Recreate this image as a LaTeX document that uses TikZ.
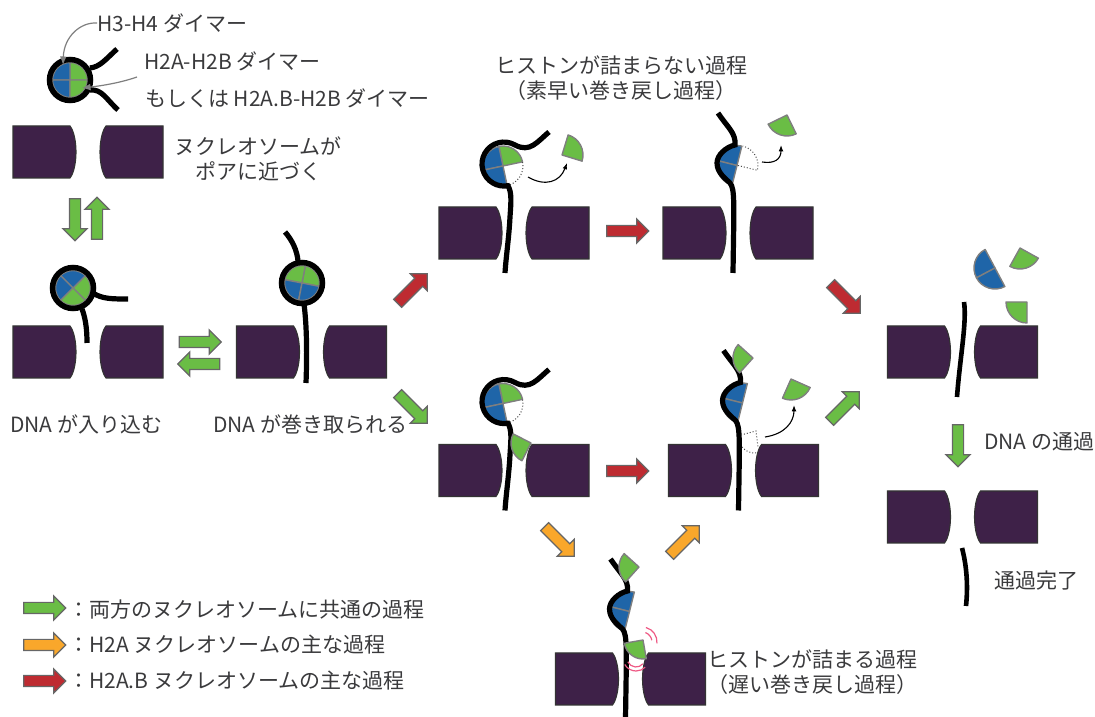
\documentclass[tikz,border=0pt]{standalone}
\usepackage{fontspec}
\setmainfont{Noto Sans CJK JP}
\usepackage{xcolor}
\usetikzlibrary{arrows.meta,shapes.arrows}
\definecolor{PoreInk}{HTML}{3E2148}
\definecolor{HistGreen}{HTML}{6ABD45}
\definecolor{HistBlue}{HTML}{1F65A8}
\definecolor{HistEdge}{HTML}{7F7F7F}
\definecolor{FlowRed}{HTML}{BE2B31}
\definecolor{FlowOrange}{HTML}{F9A72B}
\definecolor{TextInk}{HTML}{3A3A3C}
\definecolor{ClashPink}{HTML}{EE5A85}

% one histone quarter: [radius]{centre}{start angle}{colour}
\newcommand{\hquart}[4][20]{%
  \draw[line width=1.4pt, draw=HistEdge, line join=round, fill=#4]
    (#2) -- ++(#3:#1) arc[start angle=#3, delta angle=90, radius=#1] -- cycle;}

\tikzset{
  pore/.pic={
    \draw[fill=PoreInk, draw=black!80, line width=1.1pt]
      (-75,26) -- (-18,26) .. controls (-14,21) and (-12,10) .. (-12,0)
      .. controls (-12,-10) and (-14,-21) .. (-18,-26) -- (-75,-26) -- cycle;
    \draw[fill=PoreInk, draw=black!80, line width=1.1pt]
      (75,26) -- (18,26) .. controls (14,21) and (12,10) .. (12,0)
      .. controls (12,-10) and (14,-21) .. (18,-26) -- (75,-26) -- cycle;
  },
  % three quarters left on the coiled strand
  coiled/.pic={
    \hquart{-11,67}{12}{HistGreen}
    \hquart{-11,67}{102}{HistBlue}
    \hquart{-11,67}{192}{HistBlue}
    \draw[ghost] (-11,67) ++(282:20) arc[start angle=282, delta angle=90, radius=20];
    \draw[dna] (35,101) .. controls (23,91) and (16,80) .. (1,88)
      arc[start angle=60, end angle=280, radius=22]
      .. controls (-2,41) and (-3,31) .. (-4,16)
      .. controls (-5,-4) and (-8,-24) .. (-9,-40);
  },
  % two quarters left, flat side to the right
  halfcore/.pic={
    \hquart{-1,67.5}{76}{HistBlue}
    \hquart{-1,67.5}{166}{HistBlue}
    \draw[dna] (-20,120) .. controls (-10,105) and (-2,100) .. (-3,88)
      .. controls (-12,86) and (-21,78) .. (-21,70)
      .. controls (-21,60) and (-12,54) .. (-8,50)
      .. controls (-3,44) and (-4,30) .. (-5,-40);
  },
  dna/.style={line width=5.2pt, draw=black},
  ring/.style={line width=5.5pt, draw=black},
  jptext/.style={font=\fontsize{21}{25.5}\selectfont, text=TextInk, inner sep=0pt},
  flow/.style={single arrow, inner xsep=0pt, inner ysep=5pt, minimum height=42pt,
               single arrow head extend=6.5pt, draw=black!60, line width=1.2pt},
  flowg/.style={flow, fill=HistGreen},
  flowr/.style={flow, fill=FlowRed},
  flowo/.style={flow, fill=FlowOrange},
  pointer/.style={draw=HistEdge, line width=1.2pt, -{Latex[length=3mm, width=2.4mm]}},
  swing/.style={draw=black, line width=1.1pt, -{Latex[length=2.2mm]}},
  ghost/.style={dotted, line width=1pt, draw=black!70},
  clash/.style={draw=ClashPink, line width=1.2pt}
}

\begin{document}
\begin{tikzpicture}[x=1pt, y=1pt]
\useasboundingbox (0,0) rectangle (1095,717);

% pores
\pic at (88,565) {pore};
\pic at (88,365) {pore};
\pic at (311.5,365) {pore};
\pic at (514,484) {pore};
\pic at (738,484) {pore};
\pic at (514,246.5) {pore};
\pic at (743.5,246.5) {pore};
\pic at (630.5,38) {pore};
\pic at (962.5,365) {pore};
\pic at (962.5,200) {pore};

% free nucleosome above the first pore
\hquart[17.5]{70,637}{0}{HistGreen}
\hquart[17.5]{70,637}{90}{HistBlue}
\hquart[17.5]{70,637}{180}{HistBlue}
\hquart[17.5]{70,637}{270}{HistGreen}
\draw[ring] (70,637) circle (20.5);
\draw[dna] (90,649) .. controls (100,650) and (106,658) .. (117,668);
\draw[dna] (90,627) .. controls (102,628) and (106,618) .. (118,607);

% DNA entering the pore
\hquart[17.5]{73,429}{-45}{HistGreen}
\hquart[17.5]{73,429}{45}{HistBlue}
\hquart[17.5]{73,429}{135}{HistBlue}
\hquart[17.5]{73,429}{225}{HistGreen}
\draw[ring] (73,429) circle (20.5);
\draw[dna] (93,424) .. controls (102,418) and (112,418) .. (128,418);
\draw[dna] (82,408) .. controls (85,400) and (87,390) .. (87,374);

% DNA taken up
\hquart[17.5]{302,434}{-11}{HistGreen}
\hquart[17.5]{302,434}{79}{HistGreen}
\hquart[17.5]{302,434}{169}{HistBlue}
\hquart[17.5]{302,434}{259}{HistBlue}
\draw[ring] (302,434) circle (20.5);
\draw[dna] (285,485) .. controls (292,477) and (297,467) .. (298,456);
\draw[dna] (304,413) .. controls (307,390) and (307,360) .. (306,334);

% upper route
\pic at (514,484) {coiled};
\hquart[21]{562,562}{-17}{HistGreen}
\draw[swing] (528,540) .. controls (545,530) and (560,535) .. (567,554);

\pic at (738,484) {halfcore};
\draw[ghost] (738,551.5) -- ++(-14:20) arc[start angle=-14, delta angle=90, radius=20];
\hquart[21]{787,602}{206}{HistGreen}
\draw[swing] (762,555) .. controls (775,553) and (781,558) .. (781,572);

% lower route
\pic at (514,246.5) {coiled};
\hquart{531,274}{153}{HistGreen}

\pic at (743.5,246.5) {halfcore};
\hquart{753,359}{138}{HistGreen}
\hquart[21]{791,338}{246}{HistGreen}
\draw[ghost] (741,282) -- (756,286) -- (758,270);
\draw[ghost] (742,270) .. controls (746,265) and (751,264) .. (756,264);
\draw[swing] (765,280) .. controls (785,283) and (794,295) .. (794,312);

% stuck histone at the pore
\pic at (630.5,38) {halfcore};
\hquart{639,150}{138}{HistGreen}
\hquart[19]{643,77}{190}{HistGreen}
\draw[clash] (642,75) ++(10:10) arc[start angle=10, end angle=70, radius=10];
\draw[clash] (642,75) ++(-5:15) arc[start angle=-5, end angle=75, radius=15];
\draw[clash] (636,59) ++(205:9) arc[start angle=205, end angle=320, radius=9];
\draw[clash] (636,59) ++(210:13) arc[start angle=210, end angle=315, radius=13];

% after passing through
\hquart[21]{995,449}{118}{HistBlue}
\hquart[21]{995,449}{208}{HistBlue}
\hquart[21]{1020,469}{241}{HistGreen}
\hquart[21]{1027,415}{180}{HistGreen}
\draw[dna, line width=4.6pt] (964,415) .. controls (967,395) and (960,360) .. (957,320);
\draw[dna, line width=4.6pt] (962,169) .. controls (967,150) and (968,130) .. (966,111);

% block arrows
\node[flowg, rotate=-90] (gdown) at (75,500) {};
\node[flowg, rotate=90] (gup) at (97,496) {};
\node[flowg] (gright) at (197.5,375) {};
\node[flowg, rotate=180] (gleft) at (201.5,353) {};
\node[flowr, rotate=45] (rup) at (410.5,426.5) {};
\node[flowg, rotate=-45] (gfall) at (410.5,310.5) {};
\node[flowr] (rtop) at (625,486) {};
\node[flowr] (rlow) at (625,246) {};
\node[flowr, rotate=-45] (rout) at (843.5,420.5) {};
\node[flowg, rotate=45] (gout) at (842.5,308.5) {};
\node[flowg, rotate=-90] (gpass) at (958,274) {};
\node[flowo, rotate=-45] (odown) at (557.5,177.5) {};
\node[flowo, rotate=45] (oup) at (682.5,174.5) {};

% legend
\node[flowg] (keyg) at (42,109) {};
\node[flowo] (keyo) at (42,72) {};
\node[flowr] (keyr) at (42,36) {};
\node[jptext, anchor=west] (keygt) at (68,107) {：両方のヌクレオソームに共通の過程};
\node[jptext, anchor=west] (keyot) at (68,72) {：H2A ヌクレオソームの主な過程};
\node[jptext, anchor=west] (keyrt) at (68,36) {：H2A.B ヌクレオソームの主な過程};

% labels
\node[jptext, anchor=west] (h3h4) at (97,694) {H3-H4 ダイマー};
\node[jptext, anchor=west] (h2a) at (144,656) {H2A-H2B ダイマー};
\node[jptext, anchor=west] (h2ab) at (145,619) {もしくは H2A.B-H2B ダイマー};
\node[jptext, align=center] (near) at (258,558) {ヌクレオソームが\\ポアに近づく};
\node[jptext, align=center] (fast) at (621,639) {ヒストンが詰まらない過程\\（素早い巻き戻し過程）};
\node[jptext, anchor=west] (enter) at (10,293) {DNA が入り込む};
\node[jptext, anchor=west] (wind) at (213,293) {DNA が巻き取られる};
\node[jptext, anchor=west] (pass) at (984,275) {DNA の通過};
\node[jptext, anchor=west] (done) at (994,136) {通過完了};
\node[jptext, align=center] (slow) at (812,45) {ヒストンが詰まる過程\\（遅い巻き戻し過程）};

% pointers from the dimer labels
\coordinate (h3h4tip) at (63,652);
\coordinate (h2atip) at (82,629);
\coordinate (h2atail) at (137,640);
\draw[pointer] (h3h4.west) .. controls (80,695) and (64,680) .. (h3h4tip);
\draw[pointer] (h2atail) .. controls (120,634) and (100,631) .. (h2atip);
\end{tikzpicture}
\end{document}
